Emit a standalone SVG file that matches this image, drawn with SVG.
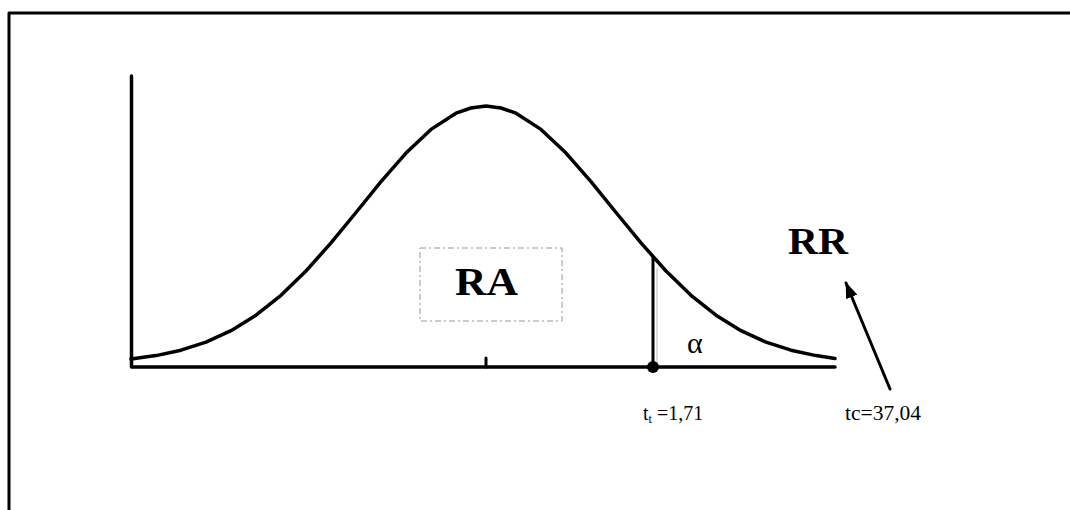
<svg xmlns="http://www.w3.org/2000/svg" width="1070" height="510" viewBox="0 0 1070 510">
<style>
.ln{stroke:#000;fill:none;stroke-linecap:round;stroke-linejoin:round}
.lbl{font-family:"Liberation Serif",serif;font-size:20px;fill:#000}
.big{font-family:"Liberation Serif",serif;font-weight:bold;fill:#000}
</style>
<defs>
<marker id="ah" viewBox="0 0 16 12" refX="15" refY="6" markerWidth="16" markerHeight="12" markerUnits="userSpaceOnUse" orient="auto">
<path d="M0,0 L16,6 L0,12 Z" fill="#000"/>
</marker>
</defs>
<rect width="1070" height="510" fill="#fff"/>
<g id="frame">
<path class="ln" d="M9,510 V13 H1070" stroke-width="3"/>
</g>
<g id="axes">
<path class="ln" d="M131.5,76 V367 H835" stroke-width="3.5"/>
<path class="ln" d="M486,358 V367" stroke-width="3"/>
</g>
<g id="curve">
<polyline class="ln" stroke-width="3.5" points="131,359.1 156,355.6 181,350.2 206,342.2 231,330.7 256,315.2 281,295.3 306,271 331,242.9 356,212.5 381,181.7 406,153.1 431,129.4 456,113.2 471,108 486,106 501,108 516,113.2 541,129.4 566,153.1 591,181.7 616,212.5 641,242.9 666,271 691,295.3 716,315.2 741,330.7 766,342.2 791,350.2 816,355.6 835,358.4"/>
</g>
<g id="critical">
<line class="ln" x1="653" y1="257" x2="653" y2="367" stroke-width="3"/>
<line x1="657" y1="268" x2="657" y2="364" stroke="#bbb" stroke-width="1"/>
<circle cx="653" cy="367" r="6" fill="#000"/>
</g>
<g id="RA">
<rect x="420" y="248" width="142" height="73" fill="none" stroke="#999" stroke-width="1" stroke-dasharray="6,3,2,3"/>
<text class="big" x="455" y="295" font-size="40" textLength="63" lengthAdjust="spacingAndGlyphs">RA</text>
</g>
<g id="RR">
<text class="big" x="788" y="254" font-size="37" textLength="60" lengthAdjust="spacingAndGlyphs">RR</text>
</g>
<g id="alpha">
<text x="687" y="353" font-family="Liberation Serif,serif" font-size="30">α</text>
</g>
<g id="labels">
<text class="lbl" x="643" y="420" font-size="19">t<tspan font-size="12" dy="3">t</tspan><tspan dy="-3"> =1,71</tspan></text>
<text class="lbl" x="845" y="420" textLength="76" lengthAdjust="spacingAndGlyphs">tc=37,04</text>
</g>
<g id="connectors">
<line class="ln" x1="890" y1="389" x2="846" y2="283" stroke-width="3" marker-end="url(#ah)"/>
</g>
</svg>
